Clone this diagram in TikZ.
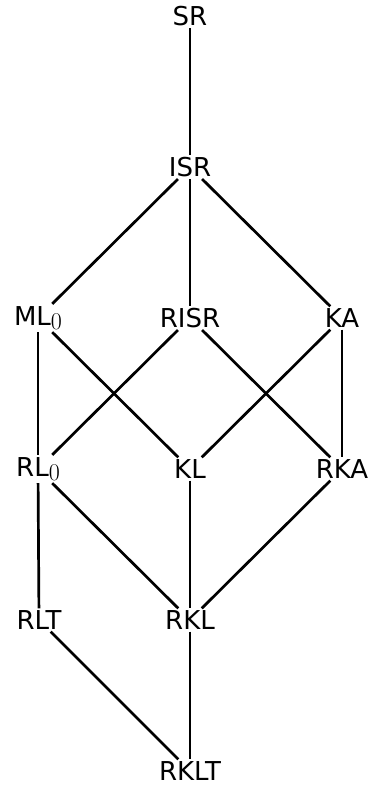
\documentclass[tikz,border=0pt]{standalone}
\usepackage{fontspec}
\setmainfont{DejaVu Sans}
\usetikzlibrary{positioning}

\newcommand{\lsub}[1]{\raisebox{-4.5pt}{\fontfamily{lmr}\fontsize{24}{24}\selectfont #1}}

\begin{document}
\begin{tikzpicture}[x=1pt, y=-1pt,
      lat/.style={inner sep=2pt, font=\fontsize{26}{30}\selectfont},
      edge/.style={line width=2.7pt}]

    \useasboundingbox (0,0) rectangle (368,789);

    \node[lat] (sr)   at (190,16)  {SR};
    \node[lat] (isr)  at (190,167) {ISR};
    \node[lat] (mlz)  at (38,318)  {ML\lsub{0}};
    \node[lat] (risr) at (190,318) {RISR};
    \node[lat] (ka)   at (342,318) {KA};
    \node[lat] (rlz)  at (38,469)  {RL\lsub{0}};
    \node[lat] (kl)   at (190,469) {KL};
    \node[lat] (rka)  at (342,469) {RKA};
    \node[lat] (rlt)  at (39,620)  {RLT};
    \node[lat] (rkl)  at (190,620) {RKL};
    \node[lat] (rklt) at (190,771) {RKLT};

    \draw[edge] (sr) -- (isr);
    \draw[edge] (isr) -- (mlz);
    \draw[edge] (isr) -- (risr);
    \draw[edge] (isr) -- (ka);
    \draw[edge] (mlz) -- (rlz);
    \draw[edge] (mlz) -- (kl);
    \draw[edge] (risr) -- (rlz);
    \draw[edge] (risr) -- (rka);
    \draw[edge] (ka) -- (kl);
    \draw[edge] (ka) -- (rka);
    \draw[edge] (rlz) -- (rlt);
    \draw[edge] (rlz) -- (rkl);
    \draw[edge] (kl) -- (rkl);
    \draw[edge] (rka) -- (rkl);
    \draw[edge] (rlt) -- (rklt);
    \draw[edge] (rkl) -- (rklt);
  \end{tikzpicture}
\end{document}
